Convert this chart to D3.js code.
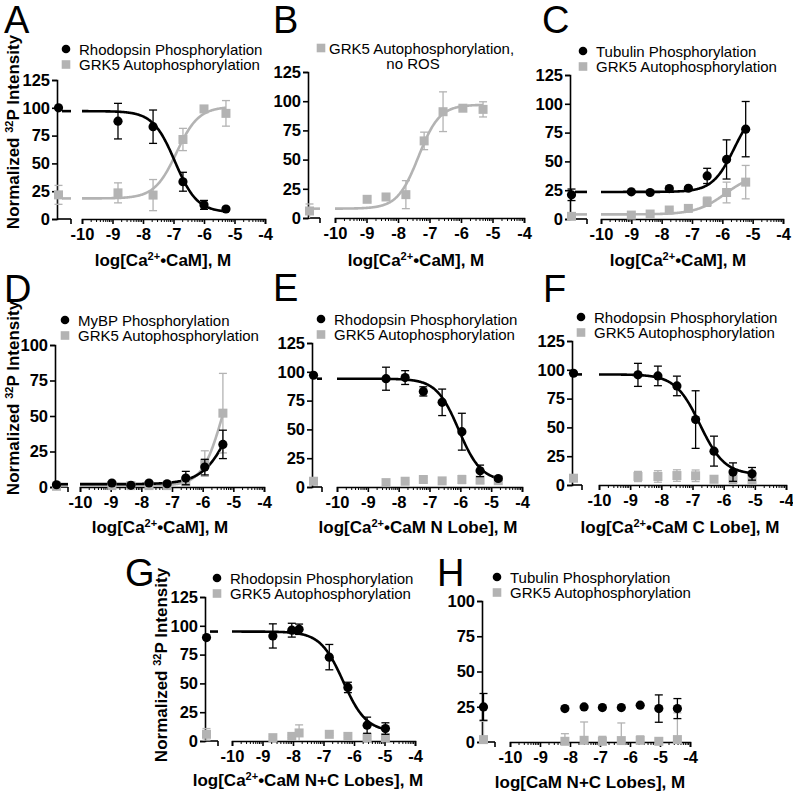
<!DOCTYPE html>
<html><head><meta charset="utf-8">
<script src="https://cdn.jsdelivr.net/npm/d3@7"></script>
<style>
body{margin:0;background:#fff}
svg{display:block}
text{font-family:"Liberation Sans",Arial,Helvetica,sans-serif}
</style>
</head><body>
<svg id="c" width="793" height="797"></svg>
<script>
// ---------- DATA (first value of each series = no-CaM control) ----------
const xTicks = [-10, -9, -8, -7, -6, -5, -4];
const yTicks125 = [0, 25, 50, 75, 100, 125];
const yTicks100 = [0, 25, 50, 75, 100];

const A_x = [-8.82, -7.67, -6.69, -6.0, -5.28];
const A_rhod = [100, 88, 83, 33.5, 12.7, 9];
const A_rhodErr = [0, 16, 15, 8.5, 4, 1.5];
const A_grk = [21.7, 23.5, 21.5, 71.5, 99, 95];
const A_grkErr = [8.5, 9, 14, 10, 1.5, 11.5];
const A_rhodFit = {bottom: 6, top: 97, logEC50: -6.95, hill: -1.2};
const A_grkFit = {bottom: 18.5, top: 101, logEC50: -6.9, hill: 1.2};

const B_x = [-8.98, -8.38, -7.75, -7.17, -6.57, -5.94, -5.3];
const B_grk = [6, 16, 18, 20, 66, 91, 94, 93];
const B_grkErr = [6, 2, 1.5, 12, 7.5, 17, 1.5, 6.5];
const B_grkFit = {bottom: 8, top: 97, logEC50: -7.35, hill: 1.3};

const C_x = [-9.0, -8.38, -7.75, -7.12, -6.5, -5.86, -5.23];
const C_tub = [21, 23.6, 23, 26.4, 26.7, 37.4, 51.7, 78];
const C_tubErr = [5, 1, 1, 1, 1, 6.6, 17, 24];
const C_grk = [2.3, 3.4, 4.3, 7.8, 9.2, 15, 23, 32];
const C_grkErr = [1, 1, 1, 1, 1, 4, 9, 14.5];
const C_tubFit = {bottom: 23.5, top: 100, logEC50: -5.6, hill: 1.2};
const C_grkFit = {bottom: 4, top: 40, logEC50: -5.9, hill: 0.9};

const D_x = [-8.96, -8.34, -7.75, -7.16, -6.55, -5.93, -5.34];
const D_mybp = [1.6, 2.8, 1.2, 2.8, 2.3, 6.3, 14, 30];
const D_mybpErr = [0.5, 0.5, 0.5, 0.5, 0.5, 4.7, 5.5, 10];
const D_grk = [0.5, 1, 1, 1, 1, 3.5, 16.5, 52];
const D_grkErr = [0.5, 0.5, 0.5, 0.5, 0.5, 1, 9, 28];
const D_mybpFit = {bottom: 2, top: 100, logEC50: -4.9, hill: 0.9};
const D_grkFit = {bottom: 1, top: 100, logEC50: -5.35, hill: 1.3};

const E_x = [-8.41, -7.79, -7.2, -6.59, -5.95, -5.36, -4.77];
const E_rhod = [97, 94, 95, 83, 73.5, 48, 14, 7.4];
const E_rhodErr = [0, 10, 6, 4, 11.5, 16, 5, 1.5];
const E_grk = [5, 3.8, 5, 6.5, 5.3, 6.5, 6, 5.5];
const E_grkErr = [0.5, 1, 1, 2, 1, 3.5, 3, 1];
const E_rhodFit = {bottom: 5, top: 94, logEC50: -6.05, hill: -1.2};

const F_x = [-8.75, -8.11, -7.5, -6.9, -6.31, -5.7, -5.09];
const F_rhod = [97, 95.6, 94.7, 86, 56.8, 29.4, 11.2, 9.7];
const F_rhodErr = [0, 10, 8.5, 8.5, 25, 13, 8, 5.5];
const F_grk = [5.9, 7.4, 7.4, 8.2, 8, 5, 5.3, 4.4];
const F_grkErr = [1, 4.4, 5, 5, 5, 1, 4, 5];
const F_rhodFit = {bottom: 9, top: 96, logEC50: -6.76, hill: -1.1};

const G_x = [-8.66, -8.04, -7.8, -6.81, -6.2, -5.57, -4.97];
const G_rhod = [89.8, 91.2, 96.2, 97, 72.8, 46.5, 13.7, 10.8];
const G_rhodErr = [0, 10.5, 6, 4.5, 11, 4.5, 7, 5];
const G_grk = [5.8, 2.9, 4, 7, 5.8, 4, 2.9, 2.9];
const G_grkErr = [5, 1, 1, 7, 1, 1, 1, 1];
const G_rhodFit = {bottom: 8, top: 95, logEC50: -6.35, hill: -1.15};

const H_x = [-8.17, -7.53, -6.92, -6.29, -5.66, -5.04, -4.42];
const H_tub = [24.9, 23.7, 24.9, 24.4, 24.4, 26.1, 23.7, 23.7];
const H_tubErr = [9.5, 0, 0, 0, 0, 0, 9.7, 7.1];
const H_grk = [1.7, 0.5, 1.2, 0.5, 1, 1.2, 0.5, 1.7];
const H_grkErr = [13, 5.4, 13, 3.5, 12.5, 3.1, 1, 19];

// ---------- STYLE ----------
const BLACK = "#000";
const GRAY = "#b3b3b3";
const svg = d3.select("#c");

function fourPL(p, x) {
  return p.bottom + (p.top - p.bottom) / (1 + Math.pow(10, (p.logEC50 - x) * p.hill));
}

function panel(cfg, xs, series) {
  const g = svg.append("g");
  const x = d3.scaleLinear().domain([-10, -4]).range([cfg.xL, cfg.xR]);
  const y = d3.scaleLinear().domain([0, cfg.yMax]).range([cfg.y0, cfg.yTop]);
  const ctrlX = cfg.axisX + 1.5;

  g.append("text").attr("x", cfg.lx).attr("y", cfg.ly).attr("font-size", 38).text(cfg.letter);

  // y axis
  const yAxis = d3.axisLeft(y).tickValues(cfg.yMax === 125 ? yTicks125 : yTicks100)
    .tickSizeOuter(0).tickSize(5).tickPadding(2);
  const ya = g.append("g").attr("transform", `translate(${cfg.axisX},0)`).call(yAxis);
  ya.select(".domain").attr("stroke-width", 1.6);
  ya.selectAll(".tick line").attr("stroke-width", 1.6);
  ya.selectAll(".tick text").attr("font-size", 16.5).attr("font-weight", "bold")
    .attr("font-family", "Liberation Sans, Arial, sans-serif").attr("fill", "#000");

  // left x segment (no-CaM control)
  g.append("line").attr("x1", cfg.axisX).attr("x2", cfg.segEnd)
    .attr("y1", cfg.y0).attr("y2", cfg.y0).attr("stroke", "#000").attr("stroke-width", 1.6);
  g.append("line").attr("x1", cfg.segEnd).attr("x2", cfg.segEnd)
    .attr("y1", cfg.y0).attr("y2", cfg.y0 + 5).attr("stroke", "#000").attr("stroke-width", 1.6);

  // main x axis
  const xAxis = d3.axisBottom(x).tickValues(xTicks).tickFormat(d3.format("d"))
    .tickSizeOuter(0).tickSize(5).tickPadding(4);
  const xa = g.append("g").attr("transform", `translate(0,${cfg.y0})`).call(xAxis);
  xa.select(".domain").attr("stroke-width", 1.6);
  xa.selectAll(".tick line").attr("stroke-width", 1.6);
  xa.selectAll(".tick text").attr("font-size", 16.5).attr("font-weight", "bold")
    .attr("font-family", "Liberation Sans, Arial, sans-serif").attr("fill", "#000")
    .text(d => "-" + Math.abs(d));
  const minors = [];
  for (let d = -10; d < -4; d++) for (let k = 2; k <= 9; k++) minors.push(d + Math.log10(k));
  g.append("g").selectAll("line").data(minors).join("line")
    .attr("x1", d => x(d)).attr("x2", d => x(d))
    .attr("y1", cfg.y0).attr("y2", cfg.y0 + 3)
    .attr("stroke", "#000").attr("stroke-width", 1);

  // axis titles
  const xl = g.append("text").attr("x", cfg.xlabX).attr("y", cfg.xlabY)
    .attr("text-anchor", "middle").attr("font-size", 17).attr("font-weight", "bold");
  cfg.xlab.forEach(p => {
    const t = xl.append("tspan").text(p.t);
    if (p.sup) t.attr("baseline-shift", "super").attr("font-size", 11);
  });
  if (cfg.ylabX !== undefined) {
    const yl = g.append("text")
      .attr("transform", `translate(${cfg.ylabX},${cfg.ylabY}) rotate(-90)`)
      .attr("text-anchor", "middle").attr("font-size", 17).attr("font-weight", "bold");
    yl.append("tspan").text("Normalized ");
    yl.append("tspan").text("32").attr("baseline-shift", "super").attr("font-size", 11);
    yl.append("tspan").text("P Intensity");
  }

  const drawOrder = series.slice().reverse();

  // fitted curves
  const line = d3.line().x(d => x(d[0])).y(d => y(d[1]));
  drawOrder.forEach(s => {
    if (!s.fit) return;
    const xmax = d3.max(xs);
    const pts = d3.range(-10, xmax + 0.001, 0.02).map(v => [v, fourPL(s.fit, v)]);
    g.append("path").attr("d", line(pts)).attr("fill", "none")
      .attr("stroke", s.color).attr("stroke-width", 2.6);
    const yl = y(fourPL(s.fit, -11));
    g.append("line").attr("x1", cfg.axisX + 5).attr("x2", cfg.segEnd)
      .attr("y1", yl).attr("y2", yl).attr("stroke", s.color).attr("stroke-width", 2.6);
  });

  // error bars + markers
  drawOrder.forEach(s => {
    const pts = s.vals.map((v, i) => ({px: i === 0 ? ctrlX : x(xs[i - 1]), v, e: s.errs[i]}));
    const eb = g.append("g").attr("stroke", s.color).attr("stroke-width", 1.3);
    pts.forEach(p => {
      if (p.e <= 0) return;
      const lo = Math.max(0, p.v - p.e), hi = p.v + p.e;
      eb.append("line").attr("x1", p.px).attr("x2", p.px).attr("y1", y(lo)).attr("y2", y(hi));
      eb.append("line").attr("x1", p.px - 4).attr("x2", p.px + 4).attr("y1", y(hi)).attr("y2", y(hi));
      if (lo > 0) eb.append("line").attr("x1", p.px - 4).attr("x2", p.px + 4).attr("y1", y(lo)).attr("y2", y(lo));
    });
    const mk = g.append("g").attr("fill", s.color);
    pts.forEach(p => {
      if (s.shape === "circle") mk.append("circle").attr("cx", p.px).attr("cy", y(p.v)).attr("r", 4.6);
      else mk.append("rect").attr("x", p.px - 4.5).attr("y", y(p.v) - 4.5).attr("width", 9).attr("height", 9);
    });
  });

  // legend
  series.forEach((s, i) => {
    const ly = cfg.legY + i * 15.5;
    if (s.shape === "circle") g.append("circle").attr("cx", cfg.legX).attr("cy", ly).attr("r", 4.3).attr("fill", s.color);
    else g.append("rect").attr("x", cfg.legX - 4.3).attr("y", ly - 4.3).attr("width", 8.6).attr("height", 8.6).attr("fill", s.color);
    g.append("text").attr("x", cfg.legX + (cfg.legGap || 13)).attr("y", ly + 5.5).attr("font-size", 15).text(s.label);
  });
  if (cfg.legExtra) {
    g.append("text").attr("x", cfg.legExtra.x).attr("y", cfg.legExtra.y)
      .attr("text-anchor", "middle").attr("font-size", 15).text(cfg.legExtra.t);
  }
}

const labCaM = [{t: "log[Ca"}, {t: "2+", sup: true}, {t: "•CaM], M"}];
const labN = [{t: "log[Ca"}, {t: "2+", sup: true}, {t: "•CaM N Lobe], M"}];
const labC = [{t: "log[Ca"}, {t: "2+", sup: true}, {t: "•CaM C Lobe], M"}];
const labNC = [{t: "log[Ca"}, {t: "2+", sup: true}, {t: "•CaM N+C Lobes], M"}];
const labApo = [{t: "log[CaM N+C Lobes], M"}];

const RHO = "Rhodopsin Phosphorylation", GRK = "GRK5 Autophosphorylation", TUB = "Tubulin Phosphorylation";

panel({letter: "A", lx: 4, ly: 33, axisX: 57, y0: 219, yTop: 80, yMax: 125, xL: 82, xR: 265, segEnd: 71,
  legX: 66, legY: 49, ylabX: 19, ylabY: 132, xlabX: 163, xlabY: 266, xlab: labCaM}, A_x, [
  {label: RHO, shape: "circle", color: BLACK, vals: A_rhod, errs: A_rhodErr, fit: A_rhodFit},
  {label: GRK, shape: "square", color: GRAY, vals: A_grk, errs: A_grkErr, fit: A_grkFit}]);

panel({letter: "B", lx: 273, ly: 33, axisX: 308, y0: 218, yTop: 72, yMax: 125, xL: 335, xR: 524, segEnd: 320,
  legX: 321, legY: 48, legGap: 8, legExtra: {t: "no ROS", x: 413, y: 69}, xlabX: 416, xlabY: 266, xlab: labCaM}, B_x, [
  {label: "GRK5 Autophosphorylation,", shape: "square", color: GRAY, vals: B_grk, errs: B_grkErr, fit: B_grkFit}]);

panel({letter: "C", lx: 542, ly: 33, axisX: 570, y0: 219, yTop: 75, yMax: 125, xL: 601, xR: 783, segEnd: 587,
  legX: 583, legY: 51, xlabX: 678, xlabY: 266, xlab: labCaM}, C_x, [
  {label: TUB, shape: "circle", color: BLACK, vals: C_tub, errs: C_tubErr, fit: C_tubFit},
  {label: GRK, shape: "square", color: GRAY, vals: C_grk, errs: C_grkErr, fit: C_grkFit}]);

panel({letter: "D", lx: 4, ly: 302, axisX: 55, y0: 487, yTop: 345, yMax: 100, xL: 80, xR: 264, segEnd: 68,
  legX: 65, legY: 320, ylabX: 19, ylabY: 398, xlabX: 160, xlabY: 533, xlab: labCaM}, D_x, [
  {label: "MyBP Phosphorylation", shape: "circle", color: BLACK, vals: D_mybp, errs: D_mybpErr, fit: D_mybpFit},
  {label: GRK, shape: "square", color: GRAY, vals: D_grk, errs: D_grkErr, fit: D_grkFit}]);

panel({letter: "E", lx: 273, ly: 301, axisX: 312, y0: 487, yTop: 343, yMax: 125, xL: 337, xR: 522, segEnd: 322,
  legX: 321, legY: 319, xlabX: 418, xlabY: 533, xlab: labN}, E_x, [
  {label: RHO, shape: "circle", color: BLACK, vals: E_rhod, errs: E_rhodErr, fit: E_rhodFit},
  {label: GRK, shape: "square", color: GRAY, vals: E_grk, errs: E_grkErr}]);

panel({letter: "F", lx: 543, ly: 302, axisX: 572, y0: 485, yTop: 341, yMax: 125, xL: 599, xR: 786, segEnd: 582,
  legX: 581, legY: 317, xlabX: 680, xlabY: 533, xlab: labC}, F_x, [
  {label: RHO, shape: "circle", color: BLACK, vals: F_rhod, errs: F_rhodErr, fit: F_rhodFit},
  {label: GRK, shape: "square", color: GRAY, vals: F_grk, errs: F_grkErr}]);

panel({letter: "G", lx: 125, ly: 586, axisX: 205, y0: 741, yTop: 597, yMax: 125, xL: 232, xR: 415, segEnd: 218,
  legX: 217, legY: 578, ylabX: 167, ylabY: 665, xlabX: 308, xlabY: 786, xlab: labNC}, G_x, [
  {label: RHO, shape: "circle", color: BLACK, vals: G_rhod, errs: G_rhodErr, fit: G_rhodFit},
  {label: GRK, shape: "square", color: GRAY, vals: G_grk, errs: G_grkErr}]);

panel({letter: "H", lx: 437, ly: 586, axisX: 482, y0: 742, yTop: 601, yMax: 100, xL: 510, xR: 690, segEnd: 495,
  legX: 497, legY: 577, xlabX: 590, xlabY: 788, xlab: labApo}, H_x, [
  {label: TUB, shape: "circle", color: BLACK, vals: H_tub, errs: H_tubErr},
  {label: GRK, shape: "square", color: GRAY, vals: H_grk, errs: H_grkErr}]);
</script>
</body></html>
